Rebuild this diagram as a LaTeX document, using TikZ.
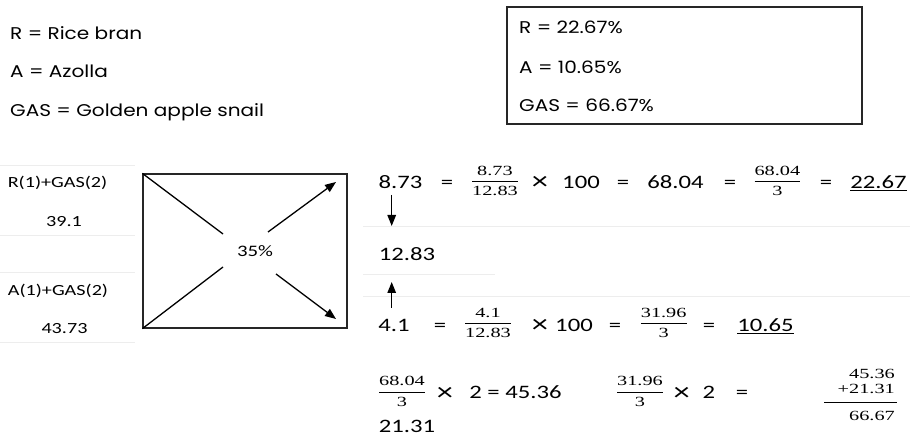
\documentclass[tikz,border=0pt]{standalone}
\usepackage{fontspec}
\usetikzlibrary{arrows.meta}
\newfontfamily\cgfont[FakeStretch=1.18]{Poppins}
\newfontfamily\clfont[FakeStretch=1.3]{Carlito}
\newfontfamily\frfont[FakeStretch=1.45]{Liberation Serif}
\newcommand\myfr[2]{$\displaystyle\frac{\hbox{#1}}{\hbox{\rule{0pt}{13pt}#2}}$}
\tikzset{
  cg/.style={font=\cgfont\fontsize{17}{20}\selectfont, inner sep=0pt, anchor=base west},
  lab/.style={font=\clfont\fontsize{15.5}{18}\selectfont, inner sep=0pt, anchor=base},
  eq/.style={font=\clfont\fontsize{19}{22}\selectfont, inner sep=0pt, anchor=base},
  tms/.style={font=\clfont\fontsize{25}{26}\selectfont, inner sep=0pt, anchor=base},
  frc/.style={font=\frfont\fontsize{14}{16}\selectfont, inner sep=0pt, anchor=base},
  sumtxt/.style={font=\frfont\fontsize{14}{16}\selectfont, inner sep=0pt, anchor=base east},
  faint/.style={draw=black!7, line width=0.8pt},
  frame/.style={draw=black!85, line width=1.2pt},
  arr/.style={-{Triangle[length=11pt,width=8.5pt]}, line width=1.3pt},
  plain/.style={line width=1.3pt}
}
\begin{document}
\begin{tikzpicture}[x=1pt,y=-1pt]
\useasboundingbox (0,0) rectangle (910,435);
% faint table rules
\draw[faint] (0,165) -- (135,165);
\draw[faint] (0,235) -- (135,235);
\draw[faint] (0,272.7) -- (135,272.7);
\draw[faint] (0,342) -- (135,342);
\draw[faint] (363,226) -- (910,226);
\draw[faint] (363,274) -- (495,274);
\draw[faint] (363,296) -- (910,296);
% legend
\node[cg] (lr) at (10,40) {R = Rice bran};
\node[cg] (la) at (10,78) {A = Azolla};
\node[cg] (lg) at (10,117) {GAS = Golden apple snail};
% result box
\node[frame, minimum width=355pt, minimum height=117pt, inner sep=0pt] (res) at (684.5,65.5) {};
\node[cg] (rr) at (519,33.3) {R = 22.67\%};
\node[cg] (ra) at (519,73.3) {A = 10.65\%};
\node[cg] (rg) at (519,111.7) {GAS = 66.67\%};
% left labels
\node[lab] (l1) at (57.5,188) {R(1)+GAS(2)};
\node[lab] (v1) at (64,226.7) {39.1};
\node[lab] (l2) at (58,296) {A(1)+GAS(2)};
\node[lab] (v2) at (64.5,334) {43.73};
% pearson square
\node[frame, minimum width=204pt, minimum height=154pt, inner sep=0pt] (sq) at (245,251) {};
\node[font=\clfont\fontsize{16}{18}\selectfont, inner sep=0pt] (pc) at (255,251) {35\%};
\coordinate (c1) at (223,234);
\coordinate (c2) at (223,267);
\coordinate (s1) at (268,232);
\coordinate (e1) at (336,182);
\coordinate (s2) at (276,274);
\coordinate (e2) at (336,319);
\draw[plain] (sq.north west) -- (c1);
\draw[plain] (sq.south west) -- (c2);
\draw[arr] (s1) -- (e1);
\draw[arr] (s2) -- (e2);
% row 1
\node[eq] (a1) at (400.5,189) {8.73};
\node[eq] (a2) at (447,189) {=};
\node[frc] (a3) at (495,185.2) {\myfr{8.73}{12.83}};
\node[tms] (a4) at (540,190) {×};
\node[eq] (a5) at (581,189) {100};
\node[eq] (a6) at (623,189) {=};
\node[eq] (a7) at (675.5,189) {68.04};
\node[eq] (a8) at (730,189) {=};
\node[frc] (a9) at (777.4,185.2) {\myfr{68.04}{3}};
\node[eq] (a10) at (826,189) {=};
\node[eq] (a11) at (878.5,189) {\underline{22.67}};
% middle
\node[eq] (m1) at (407,261) {12.83};
\coordinate (d1) at (391.7,195);
\coordinate (d2) at (391.7,226);
\coordinate (u1) at (391.7,308);
\coordinate (u2) at (391.7,282);
\draw[arr] (d1) -- (d2);
\draw[arr] (u1) -- (u2);
% row 2
\node[eq] (b1) at (394,332) {4.1};
\node[eq] (b2) at (440,332) {=};
\node[frc] (b3) at (488,326.8) {\myfr{4.1}{12.83}};
\node[tms] (b4) at (540,333) {×};
\node[eq] (b5) at (574,332) {100};
\node[eq] (b6) at (615,332) {=};
\node[frc] (b7) at (663.7,326.8) {\myfr{31.96}{3}};
\node[eq] (b8) at (709,332) {=};
\node[eq] (b9) at (765.5,332) {\underline{10.65}};
% row 3
\node[frc] (c3a) at (402,395.5) {\myfr{68.04}{3}};
\node[tms] (c3b) at (445,400) {×};
\node[eq] (c3c) at (515.5,399) {2 = 45.36};
\node[frc] (c3d) at (640,395.5) {\myfr{31.96}{3}};
\node[tms] (c3e) at (681.6,400) {×};
\node[eq] (c3f) at (709,399) {2};
\node[eq] (c3g) at (742,399) {=};
\node[eq] (c3h) at (407,432) {21.31};
% sum
\node[sumtxt] (s3a) at (895,378) {45.36};
\node[sumtxt] (s3b) at (895,393) {+21.31};
\node[sumtxt] (s3c) at (895,420) {66.67};
\coordinate (sl1) at (824,402);
\coordinate (sl2) at (897,402);
\draw[line width=1pt] (sl1) -- (sl2);
\end{tikzpicture}
\end{document}
